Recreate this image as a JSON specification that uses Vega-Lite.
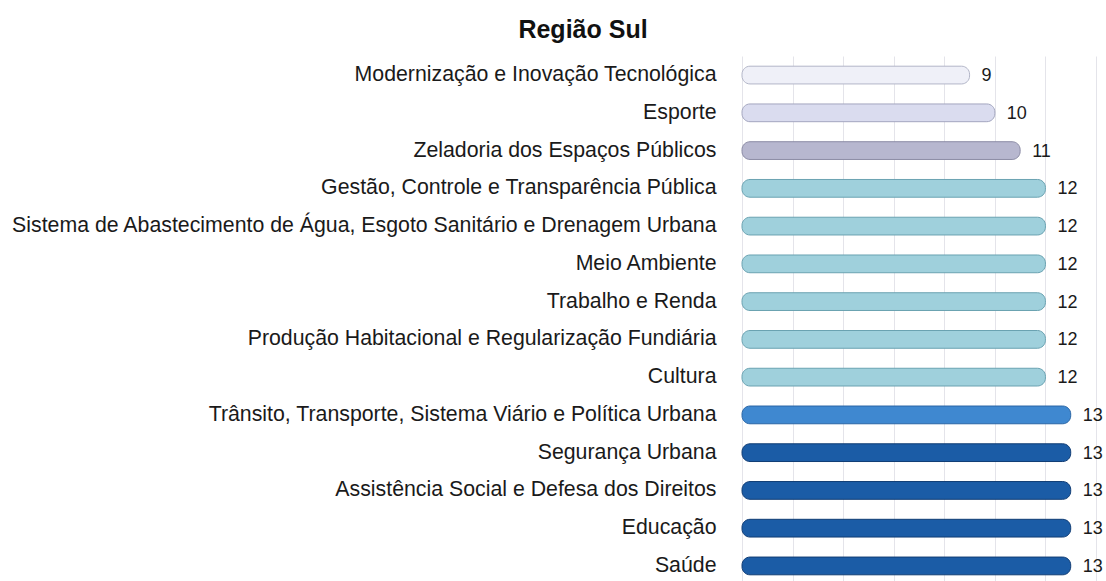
{
  "$schema": "https://vega.github.io/schema/vega-lite/v6.json",
  "autosize": {"type": "none"},
  "width": 354,
  "height": 529,
  "padding": {"left": 742, "top": 56, "right": 10, "bottom": 0},
  "background": "white",
  "title": {
    "text": "Região Sul",
    "font": "Liberation Sans",
    "fontSize": 25,
    "fontWeight": "bold",
    "color": "#111111",
    "anchor": "middle",
    "frame": "group",
    "dx": -336,
    "offset": 13
  },
  "config": {"view": {"stroke": null}},
  "data": {
    "values": [
      {"tema": "Modernização e Inovação Tecnológica", "valor": 9},
      {"tema": "Esporte", "valor": 10},
      {"tema": "Zeladoria dos Espaços Públicos", "valor": 11},
      {"tema": "Gestão, Controle e Transparência Pública", "valor": 12},
      {"tema": "Sistema de Abastecimento de Água, Esgoto Sanitário e Drenagem Urbana", "valor": 12},
      {"tema": "Meio Ambiente", "valor": 12},
      {"tema": "Trabalho e Renda", "valor": 12},
      {"tema": "Produção Habitacional e Regularização Fundiária", "valor": 12},
      {"tema": "Cultura", "valor": 12},
      {"tema": "Trânsito, Transporte, Sistema Viário e Política Urbana", "valor": 13},
      {"tema": "Segurança Urbana", "valor": 13},
      {"tema": "Assistência Social e Defesa dos Direitos", "valor": 13},
      {"tema": "Educação", "valor": 13},
      {"tema": "Saúde", "valor": 13}
    ]
  },
  "encoding": {
    "y": {
      "field": "tema",
      "type": "nominal",
      "sort": null,
      "scale": {"paddingInner": 0.53, "paddingOuter": 0.27},
      "axis": {
        "title": null,
        "domain": false,
        "ticks": false,
        "labelFont": "Liberation Sans",
        "labelFontSize": 21.3,
        "labelColor": "#1a1a1a",
        "labelPadding": 26,
        "labelLimit": 800
      }
    },
    "x": {
      "field": "valor",
      "type": "quantitative",
      "scale": {"domain": [0, 14], "nice": false},
      "axis": {
        "title": null,
        "labels": false,
        "ticks": false,
        "domain": false,
        "values": [0, 2, 4, 6, 8, 10, 12, 14],
        "gridColor": "#e4e4ea",
        "gridWidth": 1
      }
    }
  },
  "layer": [
    {
      "mark": {"type": "bar", "cornerRadius": 8, "strokeWidth": 1},
      "encoding": {
        "x2": {"datum": 0},
        "color": {
          "field": "tema",
          "type": "nominal",
          "legend": null,
          "scale": {
            "domain": [
              "Modernização e Inovação Tecnológica",
              "Esporte",
              "Zeladoria dos Espaços Públicos",
              "Gestão, Controle e Transparência Pública",
              "Sistema de Abastecimento de Água, Esgoto Sanitário e Drenagem Urbana",
              "Meio Ambiente",
              "Trabalho e Renda",
              "Produção Habitacional e Regularização Fundiária",
              "Cultura",
              "Trânsito, Transporte, Sistema Viário e Política Urbana",
              "Segurança Urbana",
              "Assistência Social e Defesa dos Direitos",
              "Educação",
              "Saúde"
            ],
            "range": ["#eff0f8", "#dadcef", "#b7b7cf", "#9fd0dc", "#9fd0dc", "#9fd0dc", "#9fd0dc", "#9fd0dc", "#9fd0dc", "#3f88d0", "#1b5ca6", "#1b5ca6", "#1b5ca6", "#1b5ca6"]
          }
        },
        "stroke": {
          "field": "tema",
          "type": "nominal",
          "legend": null,
          "scale": {
            "domain": [
              "Modernização e Inovação Tecnológica",
              "Esporte",
              "Zeladoria dos Espaços Públicos",
              "Gestão, Controle e Transparência Pública",
              "Sistema de Abastecimento de Água, Esgoto Sanitário e Drenagem Urbana",
              "Meio Ambiente",
              "Trabalho e Renda",
              "Produção Habitacional e Regularização Fundiária",
              "Cultura",
              "Trânsito, Transporte, Sistema Viário e Política Urbana",
              "Segurança Urbana",
              "Assistência Social e Defesa dos Direitos",
              "Educação",
              "Saúde"
            ],
            "range": ["#b3b6c8", "#a3a6bf", "#8b8ba5", "#6aa2b1", "#6aa2b1", "#6aa2b1", "#6aa2b1", "#6aa2b1", "#6aa2b1", "#2a66a6", "#103c74", "#103c74", "#103c74", "#103c74"]
          }
        }
      }
    },
    {
      "mark": {
        "type": "text",
        "align": "left",
        "baseline": "middle",
        "dx": 12,
        "dy": 1,
        "font": "Liberation Sans",
        "fontSize": 18,
        "color": "#1a1a1a"
      },
      "encoding": {"text": {"field": "valor", "type": "quantitative"}}
    }
  ]
}
